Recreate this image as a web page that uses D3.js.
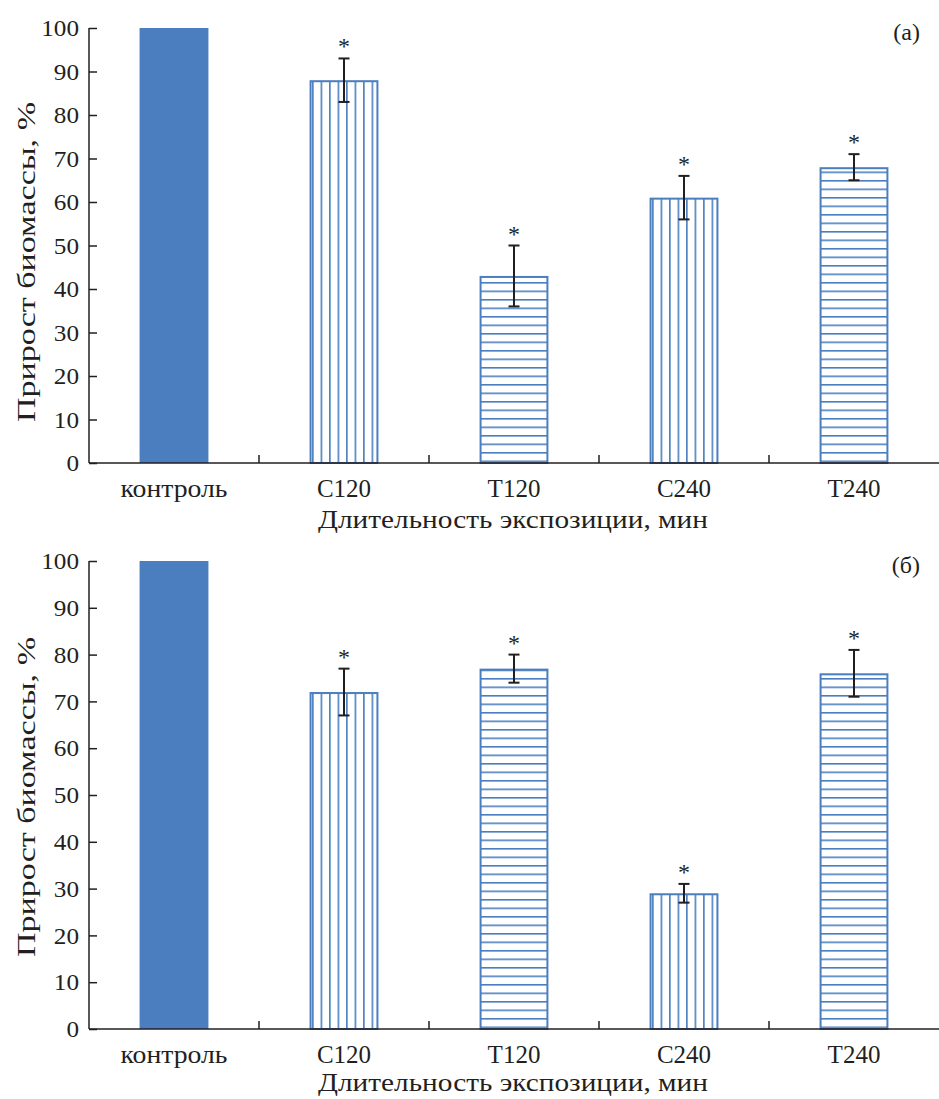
<!DOCTYPE html>
<html>
<head>
<meta charset="utf-8">
<script src="https://cdn.jsdelivr.net/npm/d3@7"></script>
<style>
  body { margin: 0; background: #fff; }
  svg text { font-family: "Liberation Serif", "Times New Roman", serif; fill: #231f20; }
</style>
</head>
<body>
<svg id="chart" width="939" height="1099"></svg>
<script>
// ---- data ----
const categories = ["контроль", "C120", "T120", "C240", "T240"];
const patterns = ["solid", "vertical", "horizontal", "vertical", "horizontal"];
const yTicks = [0, 10, 20, 30, 40, 50, 60, 70, 80, 90, 100];

const valuesA = [100, 88, 43, 61, 68];
const errLowA = [null, 83, 36, 56, 65];
const errHighA = [null, 93, 50, 66, 71];
const starsA = [false, true, true, true, true];

const valuesB = [100, 72, 77, 29, 76];
const errLowB = [null, 67, 74, 27, 71];
const errHighB = [null, 77, 80, 31, 81];
const starsB = [false, true, true, true, true];

const panelLabels = ["(а)", "(б)"];
const yTitle = "Прирост биомассы, %";
const xTitle = "Длительность экспозиции, мин";

// ---- drawing ----
const svg = d3.select("#chart");
const defs = svg.append("defs");
const blue = "#4a7ebf";
const ink = "#231f20";
const serif = '"Liberation Serif", "Times New Roman", serif';

function drawPanel(opt) {
  const { id, top, bottom, left, right, values, lo, hi, stars, label, yTitleCenter, catDy, titleDy } = opt;
  const g = svg.append("g");
  const x = d3.scaleBand().domain(categories).range([left, right]).paddingInner(0).paddingOuter(0);
  const y = d3.scaleLinear().domain([0, 100]).range([bottom, top]);
  const bw = x.bandwidth() * 0.405;

  // bars
  categories.forEach((c, i) => {
    const cx = x(c) + x.bandwidth() / 2;
    const x0 = cx - bw / 2;
    const y0 = y(values[i]);
    const h = y(0) - y0;
    if (patterns[i] === "solid") {
      g.append("rect").attr("x", x0).attr("y", y0).attr("width", bw).attr("height", h).attr("fill", blue);
    } else {
      const pid = `p_${id}_${i}`;
      const sp = 8.5;
      const pat = defs.append("pattern").attr("id", pid).attr("patternUnits", "userSpaceOnUse");
      if (patterns[i] === "vertical") {
        pat.attr("x", x0 + 2.5).attr("y", 0).attr("width", sp).attr("height", 10);
        pat.append("line").attr("x1", 0.8).attr("x2", 0.8).attr("y1", 0).attr("y2", 10)
          .attr("stroke", blue).attr("stroke-width", 1.6);
      } else {
        pat.attr("x", 0).attr("y", y(0) - 2.5).attr("width", 10).attr("height", sp);
        pat.append("line").attr("x1", 0).attr("x2", 10).attr("y1", 0.8).attr("y2", 0.8)
          .attr("stroke", blue).attr("stroke-width", 1.6);
      }
      g.append("rect").attr("x", x0 + 1).attr("y", y0 + 1).attr("width", bw - 2).attr("height", h - 1)
        .attr("fill", `url(#${pid})`).attr("stroke", blue).attr("stroke-width", 2);
    }
    if (lo[i] != null) {
      const ya = y(lo[i]), yb = y(hi[i]);
      g.append("line").attr("x1", cx).attr("x2", cx).attr("y1", ya).attr("y2", yb)
        .attr("stroke", ink).attr("stroke-width", 2);
      [ya, yb].forEach(yy => g.append("line").attr("x1", cx - 5.5).attr("x2", cx + 5.5)
        .attr("y1", yy).attr("y2", yy).attr("stroke", ink).attr("stroke-width", 2));
      if (stars[i]) {
        g.append("text").attr("x", cx).attr("y", yb - 4).attr("text-anchor", "middle")
          .attr("font-size", 24).text("*");
      }
    }
  });

  // y axis
  const yAxis = d3.axisLeft(y).tickValues(yTicks).tickSize(-8).tickPadding(20);
  const ya = g.append("g").attr("transform", `translate(${left},0)`).call(yAxis);
  ya.attr("font-family", serif);
  ya.select(".domain").attr("stroke", ink).attr("stroke-width", 1.5).attr("d", `M0,${top}V${bottom}`);
  ya.selectAll(".tick line").attr("stroke", ink).attr("stroke-width", 1.5);
  ya.selectAll(".tick text").attr("font-size", 24).attr("fill", ink)
    .style("font-family", serif).attr("dx", 10)
    .attr("textLength", d => String(d).length * 12.6).attr("lengthAdjust", "spacingAndGlyphs");

  // x axis
  const xa = g.append("g").attr("transform", `translate(0,${bottom})`);
  xa.append("line").attr("x1", left).attr("x2", right).attr("y1", 0).attr("y2", 0)
    .attr("stroke", ink).attr("stroke-width", 1.5);
  categories.slice(1).forEach(c => {
    xa.append("line").attr("x1", x(c)).attr("x2", x(c)).attr("y1", 0).attr("y2", -8)
      .attr("stroke", ink).attr("stroke-width", 1.5);
  });
  categories.forEach(c => {
    const t = xa.append("text").attr("x", x(c) + x.bandwidth() / 2).attr("y", catDy)
      .attr("text-anchor", "middle").attr("font-size", 25).text(c);
    if (c === "контроль") t.attr("textLength", 107).attr("lengthAdjust", "spacingAndGlyphs");
  });
  xa.append("text").attr("x", (left + right) / 2 - 1).attr("y", titleDy)
    .attr("text-anchor", "middle").attr("font-size", 25)
    .attr("textLength", 390).attr("lengthAdjust", "spacingAndGlyphs").text(xTitle);

  // y title
  g.append("text").attr("transform", `translate(35,${yTitleCenter}) rotate(-90)`)
    .attr("text-anchor", "middle").attr("font-size", 26)
    .attr("textLength", 320).attr("lengthAdjust", "spacingAndGlyphs").text(yTitle);

  // panel label
  g.append("text").attr("x", 920).attr("y", top + 12).attr("text-anchor", "end")
    .attr("font-size", 24).text(label);
}

drawPanel({ id: "a", top: 28, bottom: 463, left: 89, right: 939, values: valuesA, lo: errLowA, hi: errHighA, stars: starsA, label: panelLabels[0], yTitleCenter: 262, catDy: 34, titleDy: 65 });
drawPanel({ id: "b", top: 561, bottom: 1029, left: 89, right: 939, values: valuesB, lo: errLowB, hi: errHighB, stars: starsB, label: panelLabels[1], yTitleCenter: 797, catDy: 34, titleDy: 62 });
</script>
</body>
</html>
